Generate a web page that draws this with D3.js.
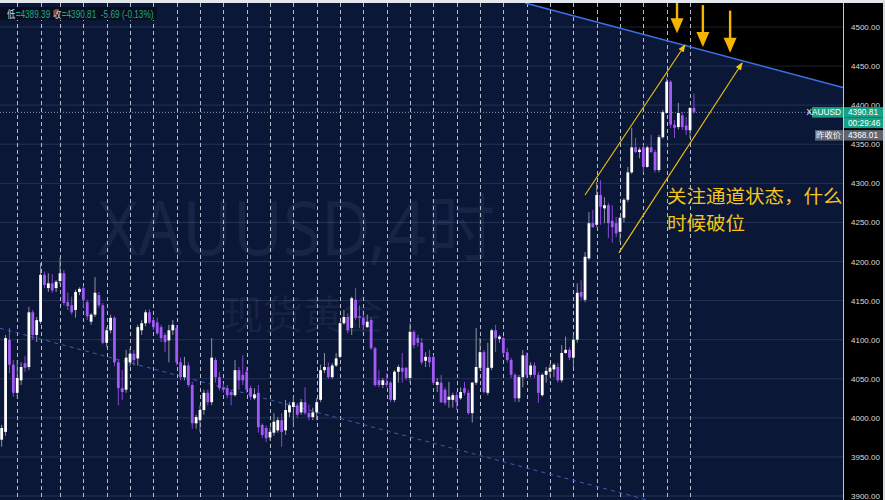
<!DOCTYPE html>
<html><head><meta charset="utf-8">
<script src="https://cdn.jsdelivr.net/npm/d3@7/dist/d3.min.js"></script>
<style>html,body{margin:0;padding:0;background:#000;}svg{display:block;}</style>
</head><body>
<svg id="chart" width="885" height="500"></svg>
<script>
// ---------- DATA (4h XAUUSD candles) ----------
const openP = [3972,3982,4100,4068,4032,4048,4070,4065,4135,4106,4123,4183,4166,4172,4166,4175,4185,4148,4144,4138,
4161,4166,4148,4123,4132,4157,4144,4096,4112,4128,4071,4038,4036,4071,4082,4076,4112,4121,4135,4125,
4122,4116,4106,4099,4112,4115,4071,4052,4067,4042,3993,3997,4010,4032,4020,4074,4052,4039,4038,4033,
4029,4061,4055,4059,4038,4025,4032,3991,3987,3975,3981,3984,3997,3984,4007,4014,4016,4007,4020,4006,
4001,4007,4023,4061,4065,4052,4067,4078,4121,4129,4115,4151,4130,4128,4116,4125,4089,4048,4042,4045,
4045,4023,4059,4064,4064,4051,4110,4102,4096,4073,4078,4078,4042,4045,4036,4023,4023,4029,4025,4038,
4032,4006,4045,4064,4084,4032,4064,4112,4101,4102,4084,4074,4055,4025,4052,4080,4055,4067,4055,4029,
4055,4059,4062,4065,4048,4083,4087,4077,4100,4161,4151,4204,4249,4247,4285,4268,4272,4252,4249,4238,
4256,4279,4314,4346,4340,4346,4321,4346,4340,4317,4359,4390,4430,4375,4372,4387,4374,4368,4396.5];
const highP = [3991,4106,4115,4074,4074,4071,4079,4142,4138,4129,4198,4187,4185,4184,4176,4204,4189,4160,4155,4164,
4167,4169,4151,4134,4180,4161,4147,4116,4132,4130,4074,4061,4087,4089,4087,4119,4125,4138,4139,4129,
4128,4119,4109,4119,4125,4119,4077,4078,4071,4046,4004,4016,4036,4036,4102,4077,4059,4044,4042,4036,
4074,4065,4080,4065,4041,4038,4042,3993,3990,3988,4006,4001,4006,4023,4020,4027,4019,4024,4039,4017,
4013,4025,4068,4083,4071,4070,4083,4123,4138,4134,4155,4166,4144,4132,4132,4128,4091,4061,4051,4057,
4047,4061,4068,4083,4065,4121,4112,4106,4102,4084,4087,4080,4051,4055,4039,4046,4032,4033,4039,4046,
4036,4046,4115,4102,4087,4096,4114,4119,4106,4104,4089,4077,4057,4055,4087,4084,4071,4071,4059,4057,
4065,4069,4070,4070,4093,4104,4090,4106,4172,4176,4212,4263,4266,4302,4304,4282,4275,4272,4257,4257,
4281,4321,4371,4358,4346,4349,4348,4362,4343,4362,4394,4435,4432,4381,4403,4391,4385,4397,4415];
const lowP = [3963,3977,4057,4027,4025,4042,4059,4061,4100,4097,4120,4166,4161,4160,4161,4171,4144,4138,4132,4128,
4157,4141,4125,4119,4129,4141,4094,4091,4108,4066,4016,4023,4032,4066,4067,4067,4106,4117,4120,4112,
4106,4097,4084,4071,4106,4067,4048,4048,4039,3986,3986,3982,4004,4016,4016,4045,4035,4032,4025,4016,
4027,4036,4042,4032,4023,4023,3981,3974,3969,3971,3977,3981,3963,3978,4001,3988,4000,4004,4004,3997,
3997,3997,4020,4057,4050,4050,4065,4076,4119,4108,4106,4125,4115,4112,4115,4087,4040,4039,4038,4039,
4020,4020,4045,4045,4048,4045,4089,4091,4068,4065,4065,4042,4033,4019,4016,4013,4013,4010,4023,4029,
4004,3994,4042,4061,4031,4029,4061,4084,4096,4080,4071,4051,4020,4020,4039,4051,4052,4051,4019,4027,
4045,4052,4052,4045,4045,4082,4074,4065,4096,4151,4148,4202,4243,4244,4247,4249,4230,4224,4231,4225,
4250,4276,4312,4339,4332,4314,4320,4339,4314,4314,4357,4389,4371,4358,4369,4368,4362,4358,4389.39];
const closeP = [3987,4102,4068,4032,4051,4065,4064,4135,4106,4125,4183,4170,4172,4163,4174,4185,4147,4143,4135,4161,
4165,4151,4130,4132,4160,4144,4096,4112,4128,4071,4038,4033,4077,4082,4074,4116,4121,4135,4122,4116,
4108,4102,4097,4112,4119,4071,4052,4067,4042,3993,4001,4010,4032,4020,4077,4052,4038,4036,4029,4029,
4061,4048,4048,4036,4027,4030,3988,3978,3974,3982,3995,3997,3982,4010,4016,4020,4004,4020,4006,4001,
4007,4020,4061,4065,4052,4067,4076,4121,4129,4112,4153,4128,4128,4119,4123,4089,4042,4042,4048,4042,
4023,4059,4065,4059,4051,4110,4093,4096,4071,4078,4071,4045,4046,4020,4019,4027,4029,4020,4033,4032,
4006,4045,4065,4084,4033,4064,4112,4102,4104,4083,4074,4055,4025,4052,4080,4055,4067,4055,4032,4055,
4060,4064,4068,4048,4083,4087,4077,4100,4160,4155,4206,4249,4244,4285,4270,4272,4249,4244,4236,4256,
4279,4314,4346,4340,4343,4321,4346,4340,4317,4359,4391,4430,4375,4371,4390,4372,4368,4396.5,4390.81];

// day separator bars (first bar of each trading day)
const dayStarts = [4,10,15,21,27,33,39,45,51,57,63,69,75,81,87,93,99,105,111,117,123,129,135,141,147,153,159,165,171,177];
// right axis tick values
const priceTicks = [3900,3950,4000,4050,4100,4150,4200,4250,4300,4350,4400,4450,4500];
// drawn lines: [bar index, price]
const trendLine   = [[135.9,4529],[216.3,4422.6]];
const lowerDashed = [[0,4114],[164.1,3897.5]];
const channelUp   = [[150.0,4285],[175.7,4477]];
const channelDown = [[158.7,4211],[190.4,4454]];
const downArrows  = [[173.65,4545,4492],[180.3,4528,4474.5],[187.3,4521,4467]];
// labels
const lastPrice = 4390.81, prevClose = 4368.01, countdown = "00:29:46";
const headerParts = [["低","#d6d9e0"],["=4389.39 ","#22a88c"],["收","#d6d9e0"],["=4390.81  -5.69 (-0.13%)","#22a88c"]];
const noteLines = ["关注通道状态，什么","时候破位"];

// ---------- LAYOUT ----------
const W = 885, H = 500, plotR = 843, plotT = 3;
const svg = d3.select("#chart");
const x = d3.scaleLinear().domain([0, 216.33]).range([1.67, plotR]);
const y = d3.scaleLinear().domain([3900, 4500]).range([496, 27]);
const idx = d3.range(closeP.length);

svg.append("rect").attr("x",0).attr("y",0).attr("width",plotR).attr("height",H).attr("fill","#0b1737");
svg.append("rect").attr("x",plotR).attr("y",0).attr("width",W-plotR).attr("height",H).attr("fill","#000");

function pix(p){ return [x(p[0]), y(p[1])]; }
function lineAtX(pts, px){ const a=pix(pts[0]), b=pix(pts[1]); return a[1] + (px-a[0])*(b[1]-a[1])/(b[0]-a[0]); }
function xAtY(pts, py){ const a=pix(pts[0]), b=pix(pts[1]); return a[0] + (py-a[1])*(b[0]-a[0])/(b[1]-a[1]); }

// black region above trend line
const xTop = xAtY(trendLine, plotT), yRight = lineAtX(trendLine, plotR);
svg.append("path").attr("d", d3.line()([[xTop,plotT],[plotR,plotT],[plotR,yRight]])+"Z").attr("fill","#000");

const defs = svg.append("defs");
defs.append("clipPath").attr("id","plotclip").append("rect")
  .attr("x",0).attr("y",plotT).attr("width",plotR).attr("height",H-plotT);
const plot = svg.append("g").attr("clip-path","url(#plotclip)");

// horizontal grid
plot.selectAll("line.hg").data(priceTicks).join("line").attr("class","hg")
  .attr("x1",0).attr("x2",plotR).attr("y1",d=>y(d)).attr("y2",d=>y(d))
  .attr("stroke","rgba(110,130,180,0.25)").attr("stroke-width",1);

// watermark
plot.append("text").attr("x",98).attr("y",255).attr("textLength",397).attr("lengthAdjust","spacingAndGlyphs")
  .attr("font-family","'Noto Sans','Noto Sans CJK SC',sans-serif").attr("font-size",74)
  .attr("fill","rgba(140,160,210,0.10)").text("XAUUSD,4时");
plot.append("text").attr("x",223).attr("y",329).attr("textLength",160)
  .attr("font-family","'Noto Sans CJK SC',sans-serif").attr("font-size",40)
  .attr("fill","rgba(140,160,210,0.10)").text("现货黄金");

// day separators
plot.selectAll("line.vd").data(dayStarts).join("line").attr("class","vd")
  .attr("x1",d=>Math.round(x(d))+0.5).attr("x2",d=>Math.round(x(d))+0.5).attr("y1",plotT).attr("y2",H)
  .attr("stroke","#c8cedc").attr("stroke-opacity",0.9).attr("stroke-width",1).attr("stroke-dasharray","4,3");

// lower dashed channel
{ const x1 = xAtY(lowerDashed, H);
  plot.append("line").attr("x1",0).attr("y1",lineAtX(lowerDashed,0)).attr("x2",x1).attr("y2",H)
    .attr("stroke","#3a5cb4").attr("stroke-width",1).attr("stroke-dasharray","4,4"); }

// trend line
plot.append("line").attr("x1",xTop).attr("y1",plotT).attr("x2",plotR).attr("y2",yRight)
  .attr("stroke","#3d70e6").attr("stroke-width",1.6);

// current price dotted line
plot.append("line").attr("x1",0).attr("x2",plotR).attr("y1",y(lastPrice)).attr("y2",y(lastPrice))
  .attr("stroke","#8d97ad").attr("stroke-width",1).attr("stroke-dasharray","1,2");

// candles
const up = i => closeP[i] >= openP[i];
const bw = 2.8;
plot.selectAll("line.wick").data(idx).join("line").attr("class","wick")
  .attr("x1",i=>x(i)).attr("x2",i=>x(i)).attr("y1",i=>y(highP[i])).attr("y2",i=>y(lowP[i]))
  .attr("stroke",i=>up(i)?"#8e939f":"#8a45dc").attr("stroke-width",1);
plot.selectAll("rect.body").data(idx).join("rect").attr("class","body")
  .attr("x",i=>x(i)-bw/2).attr("width",bw)
  .attr("y",i=>y(Math.max(openP[i],closeP[i])))
  .attr("height",i=>Math.max(1, Math.abs(y(openP[i])-y(closeP[i]))))
  .attr("fill",i=>up(i)?"#ffffff":"#a25af5");

// yellow channel lines with arrowheads
defs.append("marker").attr("id","ah").attr("viewBox","0 0 10 10").attr("refX",9).attr("refY",5)
  .attr("markerWidth",7).attr("markerHeight",7).attr("orient","auto")
  .append("path").attr("d","M0,1 L10,5 L0,9 Z").attr("fill","#f1c40f");
[channelUp, channelDown].forEach(c=>{
  const a=pix(c[0]), b=pix(c[1]);
  svg.append("line").attr("x1",a[0]).attr("y1",a[1]).attr("x2",b[0]).attr("y2",b[1])
    .attr("stroke","#f1c40f").attr("stroke-width",1.1).attr("marker-end","url(#ah)");
});

// big down arrows
downArrows.forEach(d=>{
  const ax = x(d[0]), yt = y(d[1]), yp = y(d[2]);
  svg.append("line").attr("x1",ax).attr("x2",ax).attr("y1",yt).attr("y2",yp-13)
    .attr("stroke","#f5b400").attr("stroke-width",2.4);
  svg.append("path").attr("d",`M${ax-6.5},${yp-15} L${ax+6.5},${yp-15} L${ax},${yp} Z`).attr("fill","#f5b400");
});

// note text
svg.selectAll("text.note").data(noteLines).join("text").attr("class","note")
  .attr("x",667).attr("y",(d,k)=>203+k*26.5)
  .attr("textLength",d=>d.length*19.5).attr("lengthAdjust","spacingAndGlyphs")
  .attr("font-family","'Noto Sans CJK SC',sans-serif").attr("font-size",18.3)
  .attr("fill","#f5c518").text(d=>d);

// header
svg.append("rect").attr("x",0).attr("y",7).attr("width",157).attr("height",13).attr("fill","#090e1f");
const hg = svg.append("g");
let hx = 0;
headerParts.forEach(p=>{
  const t = hg.append("text").attr("x",hx).attr("y",0).attr("fill",p[1]).attr("xml:space","preserve")
    .attr("font-family","'Liberation Sans','Noto Sans CJK SC',sans-serif").attr("font-size",10).text(p[0]);
  hx += t.node().getComputedTextLength() + 0.5;
});
hg.attr("transform",`translate(7,17.8) scale(${147/hx},1)`);

// price boxes geometry
const yl = y(lastPrice), bh = 10.5;

// right axis; labels are hidden where the price boxes sit, as in the reference
defs.append("clipPath").attr("id","axclip").append("path")
  .attr("d",`M-1,0H50V${yl-bh/2}H-1Z M-1,${yl+bh*2.5+2}H50V${H}H-1Z`);
const axis = d3.axisRight(y).tickValues(priceTicks).tickFormat(d3.format(".2f")).tickSize(0).tickPadding(8);
const ag = svg.append("g").attr("transform",`translate(${plotR},0)`);
const agInner = ag.append("g").attr("clip-path","url(#axclip)").call(axis);
agInner.select(".domain").remove();
ag.append("line").attr("x1",0.5).attr("x2",0.5).attr("y1",0).attr("y2",H).attr("stroke","#c8c8c8");
agInner.selectAll("text").attr("fill","#dcdcdc").attr("font-size",8).attr("font-family","'Liberation Sans',Arial,sans-serif");

const green = "#16a085";
function box(x0,y0,w,fill,txt,anchor){
  svg.append("rect").attr("x",x0).attr("y",y0).attr("width",w).attr("height",bh).attr("fill",fill);
  svg.append("text").attr("x",anchor==="end"?x0+w-2:x0+4).attr("y",y0+bh-2.3).attr("text-anchor",anchor||"start")
    .attr("font-family","'Liberation Sans','Noto Sans CJK SC',sans-serif").attr("font-size",8.3).attr("fill","#ffffff").text(txt);
}
box(812, yl-bh/2, 31, green, "XAUUSD", "end");
box(plotR+1, yl-bh/2, 41, green, d3.format(".2f")(lastPrice));
box(plotR+1, yl+bh/2, 41, green, countdown);
const yp0 = yl+bh*1.5+2;
box(815, yp0, 28, "#5f6470", "昨收价", "end");
box(plotR+1, yp0, 41, "#5f6470", d3.format(".2f")(prevClose));

// frame strips
svg.append("rect").attr("x",0).attr("y",0).attr("width",W).attr("height",plotT).attr("fill","#e3e6eb");
svg.append("rect").attr("x",W-2).attr("y",0).attr("width",2).attr("height",H).attr("fill","#d9dce2");
</script>
</body></html>
